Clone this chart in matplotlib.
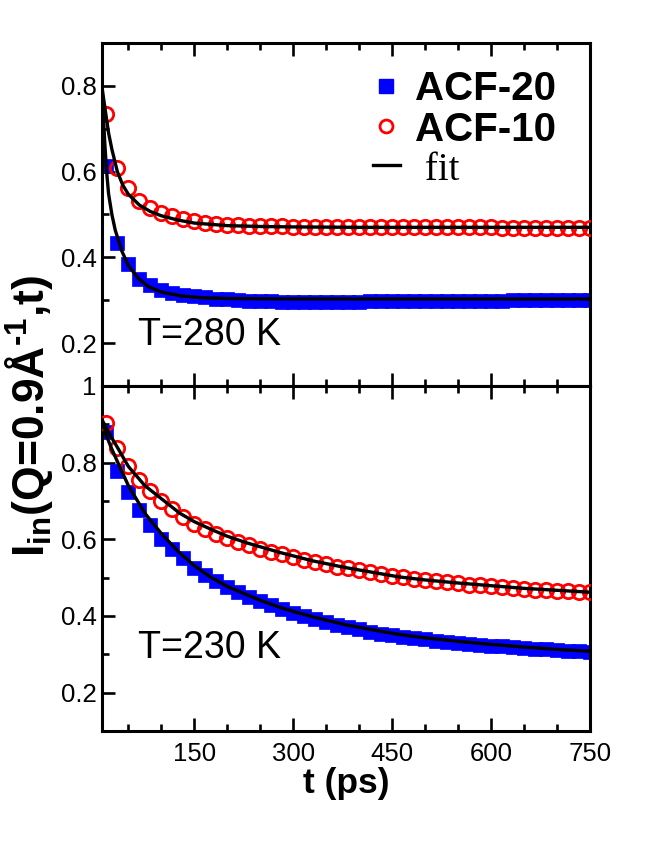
import matplotlib
matplotlib.use('Agg')
import matplotlib.pyplot as plt
from matplotlib.ticker import FixedLocator, FuncFormatter
from matplotlib.lines import Line2D

plt.rcParams['font.family'] = ['Liberation Sans', 'DejaVu Sans']
plt.rcParams['mathtext.fontset'] = 'custom'
plt.rcParams['mathtext.rm'] = 'Liberation Sans'
plt.rcParams['mathtext.bf'] = 'Liberation Sans:bold'
plt.rcParams['mathtext.it'] = 'Liberation Sans:italic'

# ---------------- data ----------------
t = [16.7, 33.3, 50.0, 66.7, 83.3, 100.0, 116.7, 133.3, 150.0, 166.7,
     183.3, 200.0, 216.7, 233.3, 250.0, 266.7, 283.3, 300.0, 316.7, 333.3,
     350.0, 366.7, 383.3, 400.0, 416.7, 433.3, 450.0, 466.7, 483.3, 500.0,
     516.7, 533.3, 550.0, 566.7, 583.3, 600.0, 616.7, 633.3, 650.0, 666.7,
     683.3, 700.0, 716.7, 733.3, 750.0]

# T = 280 K
acf20_280 = [0.612, 0.434, 0.384, 0.350, 0.336, 0.325, 0.318, 0.313, 0.310, 0.307,
             0.304, 0.302, 0.300, 0.299, 0.298, 0.298, 0.297, 0.297, 0.297, 0.297,
             0.297, 0.297, 0.297, 0.297, 0.298, 0.298, 0.298, 0.298, 0.298, 0.298,
             0.298, 0.298, 0.299, 0.299, 0.299, 0.299, 0.299, 0.300, 0.300, 0.300,
             0.300, 0.300, 0.301, 0.301, 0.301]
acf10_280 = [0.734, 0.608, 0.561, 0.532, 0.515, 0.504, 0.496, 0.489, 0.484, 0.480,
             0.478, 0.476, 0.475, 0.474, 0.473, 0.472, 0.472, 0.471, 0.471, 0.470,
             0.470, 0.470, 0.470, 0.470, 0.470, 0.470, 0.470, 0.470, 0.470, 0.470,
             0.470, 0.470, 0.470, 0.470, 0.470, 0.470, 0.469, 0.469, 0.469, 0.469,
             0.469, 0.469, 0.469, 0.469, 0.469]
fit_t20_280 = [10, 12, 14.5, 17, 20, 25, 30, 40, 50, 65, 80, 100, 130, 160, 200, 300, 400, 550, 750]
fit_v20_280 = [0.797, 0.73, 0.66, 0.60, 0.548, 0.50, 0.464, 0.415, 0.381, 0.351, 0.332,
               0.319, 0.310, 0.306, 0.304, 0.303, 0.303, 0.303, 0.303]
fit_t10_280 = [10, 12, 16.7, 20, 25, 33.3, 41.7, 50, 66.7, 83.3, 100, 125, 150, 200, 250, 300, 400, 550, 750]
fit_v10_280 = [0.797, 0.775, 0.725, 0.690, 0.652, 0.600, 0.568, 0.547, 0.522, 0.507, 0.497,
               0.487, 0.480, 0.474, 0.472, 0.471, 0.470, 0.470, 0.470]

# T = 230 K
acf20_230 = [0.879, 0.779, 0.724, 0.676, 0.637, 0.602, 0.576, 0.550, 0.526, 0.506,
             0.490, 0.476, 0.462, 0.449, 0.438, 0.428, 0.418, 0.409, 0.400, 0.392,
             0.384, 0.377, 0.371, 0.365, 0.359, 0.354, 0.350, 0.346, 0.342, 0.339,
             0.336, 0.333, 0.330, 0.328, 0.325, 0.323, 0.321, 0.319, 0.317, 0.315,
             0.313, 0.311, 0.309, 0.308, 0.306]
acf10_230 = [0.903, 0.838, 0.792, 0.756, 0.725, 0.700, 0.678, 0.658, 0.641, 0.627,
             0.614, 0.603, 0.593, 0.584, 0.576, 0.568, 0.561, 0.554, 0.547, 0.541,
             0.535, 0.529, 0.524, 0.519, 0.514, 0.509, 0.505, 0.501, 0.497, 0.494,
             0.491, 0.488, 0.485, 0.482, 0.480, 0.477, 0.475, 0.473, 0.471, 0.469,
             0.468, 0.466, 0.465, 0.463, 0.462]
fit_t20_230 = [10, 16.7, 25, 33.3, 50, 75, 100, 125, 150, 175, 200, 229, 250, 279, 300,
               329, 350, 380, 430, 460, 500, 556, 600, 657, 700, 750]
fit_v20_230 = [0.907, 0.870, 0.835, 0.803, 0.740, 0.668, 0.615, 0.569, 0.531, 0.501,
               0.477, 0.456, 0.441, 0.423, 0.412, 0.398, 0.389, 0.377, 0.361, 0.352,
               0.343, 0.333, 0.326, 0.318, 0.313, 0.308]
fit_t10_230 = [10, 16.7, 25, 33.3, 50, 75, 100, 128, 150, 178, 200, 229, 279, 329, 380,
               430, 460, 500, 550, 600, 650, 700, 750]
fit_v10_230 = [0.912, 0.890, 0.864, 0.840, 0.790, 0.740, 0.706, 0.668, 0.646, 0.624,
               0.608, 0.591, 0.566, 0.544, 0.526, 0.511, 0.502, 0.494, 0.486, 0.479,
               0.472, 0.467, 0.462]

labels = ['ACF-20', 'ACF-10', ' fit']
panel_texts = ['T=280 K', 'T=230 K']
xticks_major = [150, 300, 450, 600, 750]

BLUE = '#0000ff'
RED = '#ff0000'

fig = plt.figure(figsize=(6.64, 8.60), dpi=100)
ax1 = fig.add_axes([0.1536, 0.5512, 0.735, 0.3988])
ax2 = fig.add_axes([0.1536, 0.1500, 0.735, 0.4012])

def style(ax):
    for s in ax.spines.values():
        s.set_linewidth(2.2)
    ax.set_xlim(10, 750)
    ax.xaxis.set_major_locator(FixedLocator([0, 150, 300, 450, 600, 750]))
    ax.xaxis.set_minor_locator(FixedLocator([50, 100, 200, 250, 350, 400, 500, 550, 650, 700]))
    ax.tick_params(which='both', direction='in', top=True, right=False, width=1.9,
                   labelsize=18.5)
    ax.tick_params(which='major', length=9.5)
    ax.tick_params(which='minor', length=5)
    ax.tick_params(axis='y', pad=4)
    ax.tick_params(axis='x', pad=8)

def draw(ax, b, r, ft20, fv20, ft10, fv10):
    ax.plot(t, b, 's', color=BLUE, ms=10.2, mec=BLUE, mew=0.5, zorder=2)
    ax.plot(t, r, 'o', mfc='none', mec=RED, ms=10.3, mew=2.0, zorder=3)
    ax.plot(ft20, fv20, '-', color='black', lw=2.4, zorder=4)
    ax.plot(ft10, fv10, '-', color='black', lw=2.4, zorder=4)

draw(ax1, acf20_280, acf10_280, fit_t20_280, fit_v20_280, fit_t10_280, fit_v10_280)
draw(ax2, acf20_230, acf10_230, fit_t20_230, fit_v20_230, fit_t10_230, fit_v10_230)

style(ax1)
style(ax2)

ax1.set_ylim(0.1, 0.9)
ax1.yaxis.set_major_locator(FixedLocator([0.2, 0.4, 0.6, 0.8]))
ax1.yaxis.set_minor_locator(FixedLocator([0.3, 0.5, 0.7]))
ax1.yaxis.set_major_formatter(FuncFormatter(lambda v, p: f'{v:.1f}'))
ax1.tick_params(labelbottom=False)

ax2.set_ylim(0.1, 1.0)
ax2.yaxis.set_major_locator(FixedLocator([0.2, 0.4, 0.6, 0.8, 1.0]))
ax2.yaxis.set_minor_locator(FixedLocator([0.3, 0.5, 0.7, 0.9]))
ax2.yaxis.set_major_formatter(FuncFormatter(lambda v, p: '1' if abs(v - 1) < 1e-6 else f'{v:.1f}'))
ax2.xaxis.set_major_formatter(FuncFormatter(lambda v, p: f'{v:.0f}' if v in xticks_major else ''))

ax1.text(64, 0.196, panel_texts[0], fontsize=27, ha='left', va='baseline')
ax2.text(64, 0.290, panel_texts[1], fontsize=27, ha='left', va='baseline')

ax2.set_xlabel('t (ps)', fontsize=25.5, fontweight='bold', labelpad=1)
fig.text(0.043, 0.516, '$\\mathbf{I}_{\\mathbf{in}}$(Q=0.9Å$^{\\mathbf{\u20101}}$,t)',
         fontsize=32, fontweight='bold', rotation=90, ha='center', va='center')

handles = [Line2D([], [], ls='none', marker='s', color=BLUE, ms=10.2),
           Line2D([], [], ls='none', marker='o', mfc='none', mec=RED, ms=9.3, mew=2.0),
           Line2D([], [], color='black', lw=2.4)]
leg = ax1.legend(handles, labels, loc='upper left', bbox_to_anchor=(0.555, 0.922),
                 frameon=False, prop={'size': 29, 'weight': 'bold'},
                 handlelength=0.67, handletextpad=0.37, labelspacing=0.07,
                 borderaxespad=0.0, borderpad=0.0)
txts = leg.get_texts()
txts[2].set_fontfamily('Liberation Serif')
txts[2].set_fontweight('normal')
txts[2].set_fontsize(28)

fig.savefig('out.png', dpi=100)
